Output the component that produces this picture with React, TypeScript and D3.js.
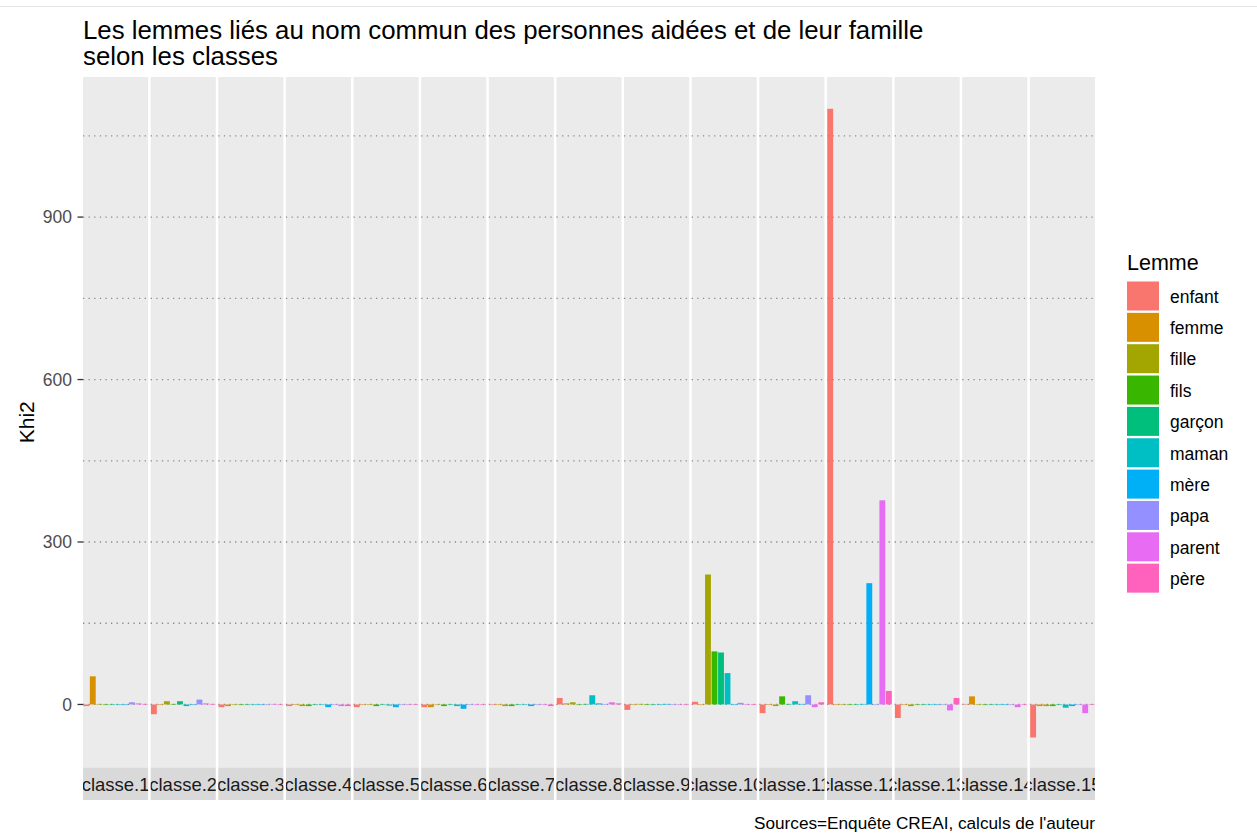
import React, { useEffect, useRef } from 'react';
import * as d3 from 'd3';

const classes = [
  'classe.1', 'classe.2', 'classe.3', 'classe.4', 'classe.5',
  'classe.6', 'classe.7', 'classe.8', 'classe.9', 'classe.10',
  'classe.11', 'classe.12', 'classe.13', 'classe.14', 'classe.15',
];
const lemmes = ['enfant', 'femme', 'fille', 'fils', 'garçon', 'maman', 'mère', 'papa', 'parent', 'père'];

// Khi2 par classe (classe.1 ... classe.15) pour chaque lemme
const enfant = [-3, -18, -5, -3, -5, -5, 0, 12, -10, 5, -16, 1100, -25, 1, -61];
const femme = [52, -1, -3, 0, -1, -5, -1, 2, 0, 0, 0, -1, 0, 15, -3];
const fille = [1, 6, -1, -3, 0, -1, -3, 4, 1, 240, -3, 0, -3, -1, -3];
const fils = [0, 1, -1, -3, -3, -3, -3, 0, -1, 98, 15, 0, 0, -1, -3];
const garcon = [0, 6, -1, -1, -1, 0, -1, 1, 0, 96, 1, 0, 0, -1, -1];
const maman = [0, -3, 0, 0, -2, -3, 0, 17, -1, 58, 6, 1, -1, -1, -6];
const mere = [0, -1, 0, -5, -5, -8, -3, 2, 1, 0, 1, 224, 0, -1, -3];
const papa = [4, 9, 0, -1, -1, -1, 0, 1, -1, 3, 17, 0, -1, -1, -1];
const parent = [2, 2, 1, -3, -1, 0, 0, 4, -1, 0, -5, 377, -11, -5, -16];
const pere = [1, 1, -1, -3, -1, -1, -3, 2, 0, 0, 4, 25, 12, -1, -1];

const series = [enfant, femme, fille, fils, garcon, maman, mere, papa, parent, pere];
const yMajor = [0, 300, 600, 900];
const yMinor = [150, 450, 750, 1050];
const palette = ['#F8766D', '#D89000', '#A3A500', '#39B600', '#00BF7D', '#00BFC4', '#00B0F6', '#9590FF', '#E76BF3', '#FF62BC'];

const FONT = '"Liberation Sans", Arial, sans-serif';

const Chart = () => {
  const svgRef = useRef(null);

  useEffect(() => {
    const svg = d3.select(svgRef.current);
    svg.selectAll('*').remove();

    const width = 1257;
    const height = 834;
    const left = 83, right = 1095, top = 77, bottom = 767.5, stripBottom = 800;

    svg.attr('width', width).attr('height', height);

    svg.append('line')
      .attr('x1', 0).attr('x2', width).attr('y1', 6.5).attr('y2', 6.5)
      .attr('stroke', '#e6e6e6').attr('stroke-width', 1);

    const xOuter = d3.scaleBand().domain(classes).range([left, right]).paddingInner(0.037);
    const bw = xOuter.bandwidth();
    const xInner = d3.scaleBand().domain(lemmes).range([0, bw]).paddingInner(0.1).paddingOuter(0.05);
    const y = d3.scaleLinear().domain([-116.4, 1158.7]).range([bottom, top]);
    const color = d3.scaleOrdinal().domain(lemmes).range(palette);

    const defs = svg.append('defs');
    classes.forEach((c, i) => {
      defs.append('clipPath').attr('id', `strip-clip-${i}`)
        .append('rect')
        .attr('x', xOuter(c)).attr('y', bottom)
        .attr('width', bw).attr('height', stripBottom - bottom);
    });

    const panels = svg.selectAll('.panel')
      .data(classes)
      .enter().append('g')
      .attr('class', 'panel');

    panels.append('rect')
      .attr('x', d => xOuter(d))
      .attr('y', top)
      .attr('width', bw)
      .attr('height', bottom - top)
      .attr('fill', '#EBEBEB');

    // dotted grid lines
    panels.each(function (c) {
      const g = d3.select(this);
      g.selectAll('.grid')
        .data([...yMinor, ...yMajor])
        .enter().append('line')
        .attr('x1', xOuter(c)).attr('x2', xOuter(c) + bw)
        .attr('y1', d => y(d)).attr('y2', d => y(d))
        .attr('stroke', '#8c8c8c')
        .attr('stroke-width', 1.3)
        .attr('stroke-dasharray', '1.3 4.3');
    });

    // bars
    panels.each(function (c, ci) {
      const g = d3.select(this);
      g.selectAll('.bar')
        .data(lemmes.map((l, li) => ({ l, v: series[li][ci] })))
        .enter().append('rect')
        .attr('x', d => xOuter(c) + xInner(d.l))
        .attr('y', d => y(Math.max(0, d.v)))
        .attr('width', xInner.bandwidth())
        .attr('height', d => Math.max(0.6, Math.abs(y(d.v) - y(0))))
        .attr('fill', d => color(d.l));
    });

    // strips
    panels.append('rect')
      .attr('x', d => xOuter(d))
      .attr('y', bottom)
      .attr('width', bw)
      .attr('height', stripBottom - bottom)
      .attr('fill', '#D9D9D9');

    panels.append('text')
      .attr('clip-path', (d, i) => `url(#strip-clip-${i})`)
      .attr('x', d => xOuter(d) + bw / 2)
      .attr('y', 791)
      .attr('text-anchor', 'middle')
      .style('font-family', FONT)
      .style('font-size', '18.5px')
      .style('fill', '#1A1A1A')
      .text(d => d);

    // y axis
    const yAxis = svg.append('g');
    yAxis.selectAll('line')
      .data(yMajor)
      .enter().append('line')
      .attr('x1', 77.5).attr('x2', left)
      .attr('y1', d => y(d)).attr('y2', d => y(d))
      .attr('stroke', '#333333').attr('stroke-width', 1.3);
    yAxis.selectAll('text')
      .data(yMajor)
      .enter().append('text')
      .attr('x', 72)
      .attr('y', d => y(d))
      .attr('dy', '0.36em')
      .attr('text-anchor', 'end')
      .style('font-family', FONT)
      .style('font-size', '17.5px')
      .style('fill', '#4D4D4D')
      .text(d => d);

    svg.append('text')
      .attr('transform', `translate(34, ${(top + bottom) / 2}) rotate(-90)`)
      .attr('text-anchor', 'middle')
      .style('font-family', FONT)
      .style('font-size', '21px')
      .style('fill', '#000')
      .text('Khi2');

    // title
    const title = svg.append('text')
      .style('font-family', FONT)
      .style('font-size', '25.8px')
      .style('fill', '#000');
    title.append('tspan').attr('x', 83).attr('y', 38.5)
      .text('Les lemmes liés au nom commun des personnes aidées et de leur famille');
    title.append('tspan').attr('x', 83).attr('y', 64.5)
      .text('selon les classes');

    // caption
    svg.append('text')
      .attr('x', right)
      .attr('y', 829)
      .attr('text-anchor', 'end')
      .style('font-family', FONT)
      .style('font-size', '17.2px')
      .style('fill', '#000')
      .text("Sources=Enquête CREAI, calculs de l'auteur");

    // legend
    const legend = svg.append('g').attr('class', 'legend');
    legend.append('text')
      .attr('x', 1127)
      .attr('y', 270)
      .style('font-family', FONT)
      .style('font-size', '21.5px')
      .style('fill', '#000')
      .text('Lemme');

    const items = legend.selectAll('.legend-item')
      .data(lemmes)
      .enter().append('g')
      .attr('class', 'legend-item')
      .attr('transform', (d, i) => `translate(1127, ${281.5 + i * 31.35})`);

    items.append('rect')
      .attr('width', 32)
      .attr('height', 29)
      .attr('fill', d => color(d));

    items.append('text')
      .attr('x', 43)
      .attr('y', 15)
      .attr('dy', '0.36em')
      .style('font-family', FONT)
      .style('font-size', '17.5px')
      .style('fill', '#000')
      .text(d => d);
  }, []);

  return <svg ref={svgRef} style={{ display: 'block' }}></svg>;
};

export default function App() {
  return (
    <div style={{ position: 'absolute', left: 0, top: 0, background: '#fff' }}>
      <Chart />
    </div>
  );
}
